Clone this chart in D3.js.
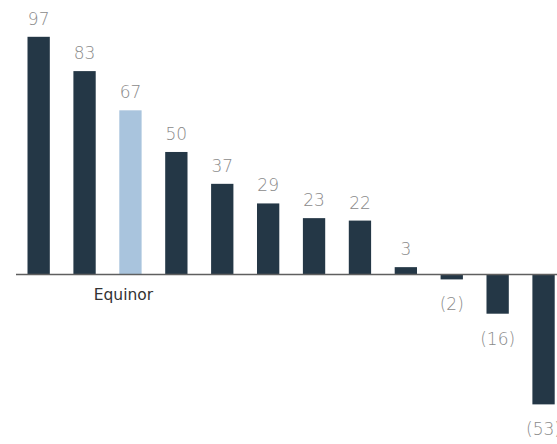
<!DOCTYPE html>
<html>
<head>
<meta charset="utf-8">
<script src="https://cdn.jsdelivr.net/npm/d3@7"></script>
<style>
  html, body { margin: 0; padding: 0; background: #ffffff; }
  svg { display: block; }
</style>
</head>
<body>
<svg id="chart" width="557" height="444"></svg>
<script>
// Data
const companies = ["Peer 1", "Peer 2", "Equinor", "Peer 3", "Peer 4", "Peer 5", "Peer 6", "Peer 7", "Peer 8", "Peer 9", "Peer 10", "Peer 11"];
const values = [97, 83, 67, 50, 37, 29, 23, 22, 3, -2, -16, -53];
const shownNames = ["", "", "Equinor", "", "", "", "", "", "", "", "", ""];
const highlighted = "Equinor";

const svg = d3.select("#chart");
const W = 557, H = 444;

const x = d3.scaleBand()
  .domain(companies)
  .range([27.5, 554.7])
  .paddingInner(0.514)
  .paddingOuter(0);

const y = d3.scaleLinear()
  .domain([0, 97])
  .range([274.5, 36.8]);

const data = companies.map((c, i) => ({ c, v: values[i], name: shownNames[i] }));

// Bars
svg.append("g").selectAll("rect")
  .data(data)
  .join("rect")
  .attr("x", d => x(d.c))
  .attr("width", x.bandwidth())
  .attr("y", d => d.v >= 0 ? y(d.v) : y(0))
  .attr("height", d => Math.abs(y(d.v) - y(0)))
  .attr("fill", d => d.c === highlighted ? "#a9c4dd" : "#243746");

// Zero line
svg.append("line")
  .attr("x1", 16).attr("x2", W)
  .attr("y1", y(0)).attr("y2", y(0))
  .attr("stroke", "#5f5f5f")
  .attr("stroke-width", 1.5);

// Value labels
const fmt = v => v < 0 ? "(" + Math.abs(v) + ")" : String(v);
svg.append("g").selectAll("text")
  .data(data)
  .join("text")
  .attr("x", d => x(d.c) + x.bandwidth() / 2)
  .attr("y", d => d.v >= 0 ? y(d.v) - 12 : y(d.v) + 31)
  .attr("text-anchor", "middle")
  .attr("font-family", "'DejaVu Sans', sans-serif")
  .attr("font-weight", 200)
  .attr("font-size", 17)
  .attr("fill", "#8a8a8a")
  .text(d => fmt(d.v));

// Category label (only Equinor shown)
svg.append("g").selectAll("text")
  .data(data.filter(d => d.name))
  .join("text")
  .attr("x", d => x(d.c) + x.bandwidth() / 2 - 7)
  .attr("y", 300)
  .attr("text-anchor", "middle")
  .attr("font-family", "'DejaVu Sans', sans-serif")
  .attr("font-weight", 400)
  .attr("font-size", 15.5)
  .attr("fill", "#333333")
  .text(d => d.name);
</script>
</body>
</html>
